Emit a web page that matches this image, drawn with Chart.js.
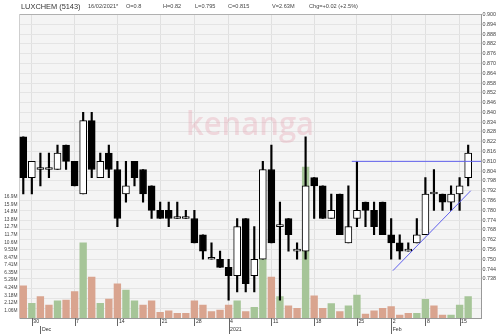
<!DOCTYPE html>
<html>
<head>
<meta charset="utf-8">
<script src="https://cdn.jsdelivr.net/npm/chart.js@4.4.1/dist/chart.umd.min.js"></script>
<style>
  html, body { margin: 0; padding: 0; background: #fff; }
</style>
</head>
<body>
<canvas id="stockChart" width="500" height="334"></canvas>
<script>
// trading days shown on the chart
const dates = [
  '2020-11-27',
  '2020-11-30', '2020-12-01', '2020-12-02', '2020-12-03', '2020-12-04',
  '2020-12-07', '2020-12-08', '2020-12-09', '2020-12-10', '2020-12-11',
  '2020-12-14', '2020-12-15', '2020-12-16', '2020-12-17', '2020-12-18',
  '2020-12-21', '2020-12-22', '2020-12-23', '2020-12-24',
  '2020-12-28', '2020-12-29', '2020-12-30', '2020-12-31',
  '2021-01-04', '2021-01-05', '2021-01-06', '2021-01-07', '2021-01-08',
  '2021-01-11', '2021-01-12', '2021-01-13', '2021-01-14', '2021-01-15',
  '2021-01-18', '2021-01-19', '2021-01-20', '2021-01-21', '2021-01-22',
  '2021-01-25', '2021-01-26', '2021-01-27', '2021-01-29',
  '2021-02-02', '2021-02-03', '2021-02-04', '2021-02-05',
  '2021-02-08', '2021-02-09', '2021-02-10', '2021-02-11',
  '2021-02-15', '2021-02-16'
];

const open = [
  0.825, 0.800, 0.805, 0.805, 0.805, 0.820, 0.810, 0.790, 0.835, 0.800,
  0.815, 0.805, 0.790, 0.810, 0.805, 0.795, 0.780, 0.780, 0.775, 0.775,
  0.775, 0.765, 0.750, 0.750, 0.745, 0.740, 0.775, 0.740, 0.750, 0.805,
  0.770, 0.775, 0.755, 0.755, 0.800, 0.795, 0.775, 0.790, 0.760, 0.775,
  0.785, 0.780, 0.785, 0.765, 0.760, 0.755, 0.760, 0.765, 0.790, 0.790,
  0.785, 0.790, 0.800
];
const high = [
  0.825, 0.810, 0.815, 0.815, 0.820, 0.820, 0.810, 0.840, 0.840, 0.815,
  0.820, 0.810, 0.810, 0.810, 0.805, 0.795, 0.785, 0.785, 0.785, 0.780,
  0.780, 0.765, 0.760, 0.755, 0.750, 0.775, 0.775, 0.770, 0.810, 0.820,
  0.785, 0.775, 0.760, 0.825, 0.800, 0.795, 0.790, 0.790, 0.795, 0.810,
  0.785, 0.785, 0.785, 0.775, 0.765, 0.760, 0.775, 0.800, 0.805, 0.790,
  0.795, 0.800, 0.820
];
const low = [
  0.790, 0.790, 0.795, 0.800, 0.805, 0.805, 0.795, 0.790, 0.800, 0.800,
  0.800, 0.770, 0.785, 0.795, 0.785, 0.775, 0.775, 0.770, 0.775, 0.775,
  0.760, 0.750, 0.750, 0.745, 0.725, 0.730, 0.730, 0.730, 0.750, 0.760,
  0.725, 0.755, 0.750, 0.750, 0.775, 0.775, 0.775, 0.765, 0.760, 0.770,
  0.770, 0.765, 0.765, 0.750, 0.750, 0.755, 0.760, 0.765, 0.780, 0.780,
  0.780, 0.780, 0.795
];
const close = [
  0.800, 0.810, 0.805, 0.805, 0.815, 0.810, 0.795, 0.835, 0.805, 0.810,
  0.805, 0.775, 0.795, 0.800, 0.790, 0.780, 0.775, 0.775, 0.775, 0.775,
  0.760, 0.755, 0.750, 0.745, 0.740, 0.770, 0.735, 0.750, 0.805, 0.760,
  0.770, 0.765, 0.755, 0.795, 0.795, 0.775, 0.780, 0.765, 0.770, 0.780,
  0.780, 0.770, 0.765, 0.760, 0.755, 0.755, 0.765, 0.790, 0.790, 0.785,
  0.790, 0.795, 0.815
];
// volume in millions of shares
const volume = [
  4.5, 2.06, 3.0, 1.8, 2.4, 2.5, 3.7, 10.5, 5.7, 2.06,
  2.66, 4.76, 3.9, 2.4, 1.8, 2.4, 0.8, 1.0, 0.66, 0.66,
  2.4, 1.8, 0.9, 1.1, 1.8, 2.4, 0.9, 1.5, 8.2, 5.7,
  3.0, 1.7, 1.35, 21.1, 3.1, 1.35, 2.0, 0.9, 1.7, 3.2,
  0.56, 1.0, 1.35, 1.6, 0.42, 0.66, 0.66, 2.6, 1.7, 0.42,
  0.42, 1.8, 3.0
];

const volStep = 1.0589; // millions
const volTickLabels = ['1.06M', '2.12M', '3.18M', '4.24M', '5.29M', '6.35M', '7.41M', '8.47M',
  '9.53M', '10.6M', '11.7M', '12.7M', '13.8M', '14.8M', '15.9M', '16.9M'];

// drawn trend lines (x = trading day index)
const resistanceLine = [{ x: 38.4, y: 0.810 }, { x: 53.5, y: 0.810 }];
const supportLine = [{ x: 43.2, y: 0.743 }, { x: 52.3, y: 0.792 }];

const header = [
  { text: 'LUXCHEM (5143)', x: 21, size: 7.4 },
  { text: '16/02/2021*', x: 88, size: 5.6 },
  { text: 'O=0.8', x: 126, size: 5.6 },
  { text: 'H=0.82', x: 163, size: 5.6 },
  { text: 'L=0.795', x: 195, size: 5.6 },
  { text: 'C=0.815', x: 228, size: 5.6 },
  { text: 'V=2.63M', x: 272, size: 5.6 },
  { text: 'Chg=+0.02 (+2.5%)', x: 309, size: 5.6 }
];

// x axis labels: day number on the first trading day of a week, month/year on the first of a month
const monthNames = ['Jan', 'Feb', 'Mar', 'Apr', 'May', 'Jun', 'Jul', 'Aug', 'Sep', 'Oct', 'Nov', 'Dec'];
const parsed = dates.map(d => new Date(d + 'T00:00:00'));
const tickInfo = {};
parsed.forEach((cur, i) => {
  if (i === 0) return;
  const prev = parsed[i - 1];
  const newWeek = cur.getDay() <= prev.getDay() || (cur - prev) > 6 * 864e5;
  const newMonth = cur.getMonth() !== prev.getMonth();
  if (!newWeek && !newMonth) return;
  const row1 = newWeek ? String(cur.getDate()) : '';
  const row2 = newMonth ? (cur.getMonth() === 0 ? String(cur.getFullYear()) : monthNames[cur.getMonth()]) : '';
  tickInfo[i] = { week: newWeek, month: newMonth, label: row2 ? [row1, row2] : row1 };
});
const tickIdx = Object.keys(tickInfo).map(Number);

const idx = dates.map((d, i) => i);
const volUp = idx.map(i => i === 0 ? close[i] > open[i] : close[i] > close[i - 1]);

const chartBg = {
  id: 'chartBg',
  beforeDraw(chart) {
    const { ctx, chartArea: a } = chart;
    ctx.save();
    ctx.fillStyle = '#f4f4f4';
    ctx.fillRect(a.left, a.top, a.right - a.left, a.bottom - a.top);
    ctx.restore();
  },
  beforeDatasetsDraw(chart) {
    const { ctx, chartArea: a } = chart;
    ctx.save();
    ctx.font = '600 32px "Open Sans", Arial';
    const w = ctx.measureText('kenanga').width;
    const cx = (a.left + a.right) / 2;
    ctx.translate(cx, 126);
    ctx.scale(128 / w, 1);
    ctx.fillStyle = 'rgba(228, 150, 165, 0.3)';
    ctx.textAlign = 'center';
    ctx.textBaseline = 'middle';
    ctx.fillText('kenanga', 0, 0);
    ctx.restore();
  },
  afterDraw(chart) {
    const { ctx, chartArea: a } = chart;
    const xs = chart.scales.x;
    ctx.save();
    // x tick marks
    ctx.strokeStyle = '#666';
    ctx.lineWidth = 1;
    tickIdx.forEach(i => {
      const px = Math.round(xs.getPixelForValue(i)) + 0.5;
      const t = tickInfo[i];
      ctx.beginPath();
      ctx.moveTo(px, a.bottom + (t.week ? 0 : 8));
      ctx.lineTo(px, t.month ? 334 : a.bottom + 8);
      ctx.stroke();
    });
    // header
    ctx.textBaseline = 'middle';
    ctx.textAlign = 'left';
    header.forEach(h => {
      ctx.font = h.size + 'px Arial';
      ctx.fillStyle = h.size > 6 ? '#333' : '#444';
      ctx.fillText(h.text, h.x, 6.5);
    });
    ctx.restore();
  }
};

new Chart(document.getElementById('stockChart'), {
  type: 'bar',
  data: {
    datasets: [
      {
        type: 'line', data: resistanceLine, yAxisID: 'price',
        borderColor: '#6060ee', borderWidth: 1, pointRadius: 0, order: 0
      },
      {
        type: 'line', data: supportLine, yAxisID: 'price',
        borderColor: '#6060ee', borderWidth: 1, pointRadius: 0, order: 0
      },
      {
        data: idx.map(i => ({ x: i, y: [open[i], close[i]] })), yAxisID: 'price',
        backgroundColor: idx.map(i => close[i] < open[i] ? '#000' : '#fff'),
        borderColor: '#000', borderWidth: 1, borderSkipped: false,
        barThickness: 7, minBarLength: 2, grouped: false, order: 1
      },
      {
        data: idx.map(i => ({ x: i, y: [low[i], high[i]] })), yAxisID: 'price',
        backgroundColor: '#000', barThickness: 1.5, grouped: false, order: 2
      },
      {
        data: idx.map(i => ({ x: i, y: volume[i] })), yAxisID: 'vol',
        backgroundColor: idx.map(i => volUp[i] ? '#a6c598' : '#d9a48f'),
        barThickness: 6.7, grouped: false, order: 3
      }
    ]
  },
  options: {
    responsive: false,
    animation: false,
    layout: { padding: { top: 14.5 } },
    plugins: { legend: { display: false }, tooltip: { enabled: false } },
    events: [],
    scales: {
      x: {
        type: 'linear', min: -0.5, max: 53.5, offset: false,
        afterBuildTicks: s => { s.ticks = tickIdx.map(v => ({ value: v })); },
        afterFit: s => { s.height = 16; },
        grid: {
          drawTicks: false, offset: false,
          color: c => (c.tick && tickInfo[c.tick.value] && tickInfo[c.tick.value].week) ? '#e0e0e0' : 'rgba(0,0,0,0)'
        },
        border: { color: '#999' },
        ticks: {
          autoSkip: false, maxRotation: 0, padding: 0, labelOffset: 1.5, align: 'start',
          color: '#333', font: { family: 'Arial', size: 5.2, lineHeight: 1.45 },
          callback: v => tickInfo[v] ? tickInfo[v].label : ''
        }
      },
      price: {
        type: 'linear', position: 'right', min: 0.714, max: 0.900,
        afterFit: s => { s.width = 19; },
        grid: {
          drawTicks: false,
          color: c => (c.tick && c.tick.value > 0.8995) ? '#b0b0b0' : '#e4e4e4'
        },
        border: { color: '#999' },
        ticks: {
          stepSize: 0.006, padding: 1.5, color: '#444',
          font: { family: 'Arial', size: 5.4 },
          callback: v => v > 0.7375 ? v.toFixed(3) : ''
        }
      },
      vol: {
        type: 'linear', position: 'left', min: 0, max: 42.4,
        afterBuildTicks: s => { s.ticks = volTickLabels.map((l, i) => ({ value: (i + 1) * volStep })); },
        afterFit: s => { s.width = 19; },
        grid: { display: false, drawTicks: false },
        border: { color: '#cfcfcf' },
        ticks: {
          padding: 1.5, color: '#444',
          font: { family: 'Arial', size: 4.8 },
          callback: (v, i) => volTickLabels[i]
        }
      }
    }
  },
  plugins: [chartBg]
});
</script>
</body>
</html>
